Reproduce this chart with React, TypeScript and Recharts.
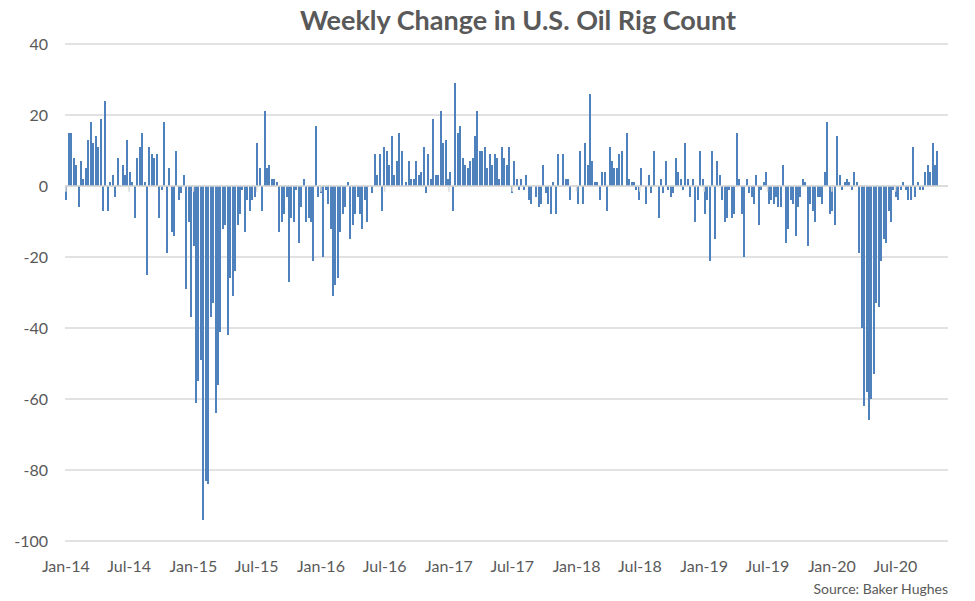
import {
  Bar,
  BarChart,
  CartesianGrid,
  ReferenceLine,
  XAxis,
  YAxis,
} from "recharts";

// Weekly change in the U.S. oil rig count, one value per Friday report
const chg2014 = [
  -4, 15, 15, 8, 6, -6, 7, 2, 5, 13, 18, 12, 14, 11, 19, -7, 24, -7, 1, 3, -3, 8, 0, 6, 3, 13,
  4, 1, -9, 8, 11, 15, 1, -25, 11, 9, 8, 9, -9, -1, 18, -19, 5, -13, -14, 10, -4, -2, 3, -29, -10, -37,
];
const chg2015 = [
  -17, -61, -55, -49, -94, -83, -84, -37, -33, -64, -56, -41, -12, -11, -42, -26, -31, -24, -11, -8, -1, -13, -4, -7, -4, -3,
  12, 5, -7, 21, 5, 6, 2, 2, 1, -13, -10, -8, -3, -27, -9, -10, -1, -16, -6, 2, -10, -9, -10, -21, 17, -3,
];
const chg2016 = [
  -2, -20, -1, -5, -12, -31, -28, -26, -13, -8, -6, 1, -15, -11, -8, -3, -8, -12, -4, -10, 0, -2, 9, 3, 9, -7,
  11, 10, 6, 14, 3, 7, 15, 10, 0, 1, 7, 2, 2, 7, 3, 4, 11, -2, 9, 2, 19, 3, 3, 21, 12, 13, 2,
];
const chg2017 = [
  4, -7, 29, 15, 17, 8, 6, 5, 7, 8, 14, 21, 10, 10, 11, 5, 9, 6, 9, 8, 2, 11, 8, 6, 11, -2,
  7, 2, -1, 2, -1, 3, -4, -5, 0, -3, -6, -5, 6, -2, -5, -8, 1, -8, 9, 0, 9, 2, 2, -4, 0, 0,
];
const chg2018 = [
  -5, 10, -5, 12, 6, 26, 7, 1, 1, -4, 4, 4, -7, 11, 7, 5, 5, 9, 10, 0, 15, 2, 1, 1, -1, -4,
  5, 0, -5, 3, -2, 10, 0, -9, 2, -2, 7, -1, -3, -2, 8, 4, 2, -1, 12, 2, -3, 2, -10, -4, 10, 2,
];
const chg2019 = [
  -8, -4, -21, 10, -15, 7, 3, -4, -10, -9, -1, -9, -8, 15, 2, -8, -20, 2, -2, -3, -5, 3, -11, -1, 1, 4,
  -5, -4, -5, -3, -6, -6, 6, -16, -12, -4, -5, -14, -6, -3, 2, 1, -17, -5, -7, -10, -3, -3, -5, 4, 18, -8,
];
const chg2020 = [
  -7, -11, 14, 3, -1, 1, 2, 1, -1, 4, 1, -19, -40, -62, -58, -66, -60, -53, -33, -34, -21, -15,
  -16, -7, -10, -1, -3, -4, -1, 1, -1, -4, -4, 11, -3, 1, -1, -1, 4, 6, 4, 12, 6, 10,
];

const tickDates = [
  "2014-01-01", "2014-07-01", "2015-01-01", "2015-07-01", "2016-01-01", "2016-07-01", "2017-01-01",
  "2017-07-01", "2018-01-01", "2018-07-01", "2019-01-01", "2019-07-01", "2020-01-01", "2020-07-01",
];
const tickLabels = [
  "Jan-14", "Jul-14", "Jan-15", "Jul-15", "Jan-16", "Jul-16", "Jan-17",
  "Jul-17", "Jan-18", "Jul-18", "Jan-19", "Jul-19", "Jan-20", "Jul-20",
];
const yTicks = [-100, -80, -60, -40, -20, 0, 20, 40];

const DAY = 86400000;
const ORIGIN = Date.UTC(2014, 0, 1);
const FIRST_REPORT = Date.UTC(2014, 0, 3);

// days since 1 Jan 2014 for each weekly report
const data = [...chg2014, ...chg2015, ...chg2016, ...chg2017, ...chg2018, ...chg2019, ...chg2020].map(
  (change, i) => ({
    day: (FIRST_REPORT - ORIGIN) / DAY + i * 7,
    change,
  })
);

const tickDays = tickDates.map((d) => (Date.parse(d) - ORIGIN) / DAY);
const labelFor = (day: number) => tickLabels[tickDays.indexOf(day)] ?? "";

const FONT = "Lato, 'Open Sans', sans-serif";
const GREY = "#595959";

const App = () => {
  return (
    <div
      style={{
        position: "absolute",
        left: 0,
        top: 0,
        width: 975,
        height: 601,
        background: "#fff",
        fontFamily: FONT,
      }}
    >
      <div
        style={{
          position: "absolute",
          left: 518,
          top: 3,
          transform: "translateX(-50%)",
          whiteSpace: "nowrap",
          fontSize: 27,
          fontWeight: 700,
          color: GREY,
        }}
      >
        Weekly Change in U.S. Oil Rig Count
      </div>
      <BarChart
        width={975}
        height={601}
        data={data}
        margin={{ top: 44, right: 27, bottom: 30, left: 15 }}
      >
        <CartesianGrid vertical={false} stroke="#d9d9d9" strokeWidth={1.3} />
        <XAxis
          dataKey="day"
          type="number"
          scale="linear"
          domain={[-2.3, 2523.4]}
          allowDataOverflow
          ticks={tickDays}
          tickFormatter={labelFor}
          interval={0}
          axisLine={false}
          tickLine={false}
          tickSize={0}
          tickMargin={20}
          height={30}
          tick={{ fill: GREY, fontSize: 16, fontFamily: FONT }}
        />
        <YAxis
          domain={[-100, 40]}
          ticks={yTicks}
          interval={0}
          axisLine={false}
          tickLine={false}
          tickSize={0}
          tickMargin={17}
          width={50}
          tick={{ fill: GREY, fontSize: 16, fontFamily: FONT }}
        />
        <Bar
          dataKey="change"
          fill="#4f81bd"
          barSize={2}
          shapeRendering="crispEdges"
          isAnimationActive={false}
        />
        <ReferenceLine y={0} stroke="#d9d9d9" strokeWidth={1.5} />
        {tickDays.map((d) => (
          <ReferenceLine
            key={d}
            segment={[
              { x: d, y: 0 },
              { x: d, y: -1.6 },
            ]}
            stroke="#d9d9d9"
            strokeWidth={1.5}
          />
        ))}
      </BarChart>
      <div
        style={{
          position: "absolute",
          right: 27,
          top: 580,
          fontSize: 14,
          color: GREY,
          whiteSpace: "nowrap",
        }}
      >
        Source: Baker Hughes
      </div>
    </div>
  );
};

export default App;
